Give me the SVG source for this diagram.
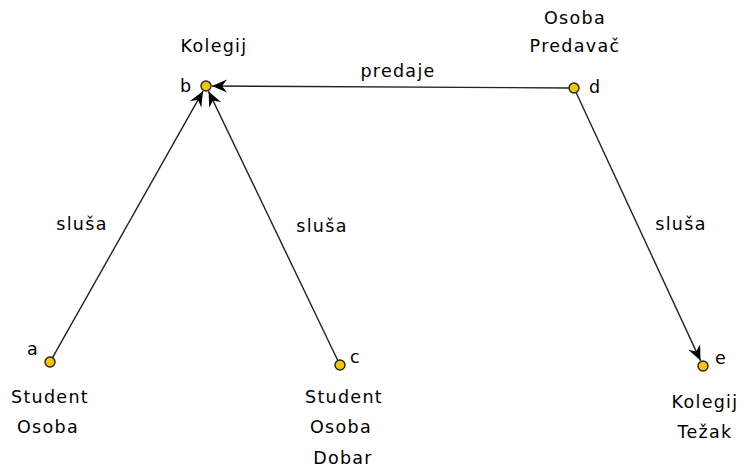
<svg xmlns="http://www.w3.org/2000/svg" width="746" height="469" viewBox="0 0 746 469">
<style>
text{font-family:"DejaVu Sans",sans-serif;font-size:17.5px;fill:#000;letter-spacing:1.3px}
.m{text-anchor:middle}
.node{fill:#f7c600;stroke:#222;stroke-width:1.4}
.edge{stroke:#222;stroke-width:1.4;fill:none;marker-end:url(#arr)}
</style>
<defs>
<marker id="arr" markerUnits="userSpaceOnUse" markerWidth="20" markerHeight="16" viewBox="-16 -8 18 16" refX="0" refY="0" orient="auto">
<path d="M-15,-6.5 L0,0 L-15,6.5 L-10,0 Z" fill="#000"/>
</marker>
</defs>
<g id="edges">
<line class="edge" x1="52.5" y1="357.6" x2="203" y2="91.2"/>
<line class="edge" x1="337.8" y1="360.5" x2="208.6" y2="91.4"/>
<line class="edge" x1="569" y1="88" x2="212" y2="86"/>
<line class="edge" x1="576.1" y1="92.5" x2="700.5" y2="360.6"/>
<text class="m" x="82" y="230">sluša</text>
<text class="m" x="322" y="232">sluša</text>
<text class="m" x="398" y="77">predaje</text>
<text class="m" x="681" y="230">sluša</text>
</g>
<g id="node-a">
<circle class="node" cx="50" cy="362" r="5"/>
<text x="27" y="355">a</text>
<text class="m" x="50" y="403">Student</text>
<text class="m" x="48" y="433">Osoba</text>
</g>
<g id="node-b">
<circle class="node" cx="206" cy="86" r="5"/>
<text x="180" y="92">b</text>
<text class="m" x="214" y="52">Kolegij</text>
</g>
<g id="node-c">
<circle class="node" cx="340" cy="365" r="5"/>
<text x="350" y="363">c</text>
<text class="m" x="344" y="403">Student</text>
<text class="m" x="341" y="433">Osoba</text>
<text class="m" x="343" y="464">Dobar</text>
</g>
<g id="node-d">
<circle class="node" cx="574" cy="88" r="5"/>
<text x="589" y="93">d</text>
<text class="m" x="575" y="24">Osoba</text>
<text class="m" x="575" y="52">Predavač</text>
</g>
<g id="node-e">
<circle class="node" cx="703" cy="366" r="5"/>
<text x="715" y="364">e</text>
<text class="m" x="705" y="408">Kolegij</text>
<text class="m" x="705" y="438">Težak</text>
</g>
</svg>
